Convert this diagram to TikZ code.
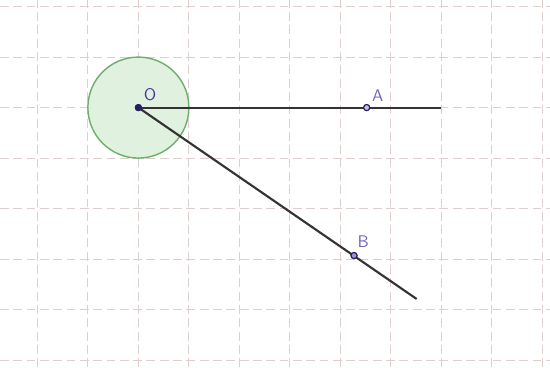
\documentclass[tikz,border=0pt]{standalone}
\usepackage{xcolor}
\usepackage{tikz}
\usetikzlibrary{positioning}
\definecolor{gridpink}{RGB}{222,206,206}
\definecolor{discgreen}{RGB}{110,175,110}
\definecolor{discfill}{RGB}{224,241,224}
\definecolor{ptnavy}{RGB}{38,30,100}
\definecolor{lblblue}{RGB}{110,100,190}
\definecolor{lbldark}{RGB}{75,55,145}

\begin{document}
\begin{tikzpicture}[
  gridline/.style={draw=gridpink,dash pattern=on 5pt off 2.5pt,line width=0.5pt},
  disc/.style={draw=discgreen,fill=discfill,line width=0.8pt},
  ray/.style={draw=black!80,line width=1.2pt},
  pt/.style={circle,inner sep=0pt,minimum size=1.2mm,draw=ptnavy,line width=0.6pt},
  lbl/.style={inner sep=0pt,font=\fontsize{9.5}{11}\sffamily,text=lblblue}
]
\useasboundingbox (-2.74,-5.14) rectangle (8.15,2.13);

% Dashed background grid.
\foreach \gx in {-2,...,8}
  \draw[gridline] (\gx,-5.14) -- (\gx,2.13);
\foreach \gy in {-5,...,2}
  \draw[gridline] (-2.74,\gy) -- (8.15,\gy);

% Disc round O and the two rays.
\fill[disc] (0,0) circle (1);
\coordinate (aend) at (6,0);
\coordinate (bend) at (5.51,-3.79);
\node[pt,fill=ptnavy] (O) at (0,0) {};
\node[pt,fill=lblblue!40] (A) at (4.52,0) {};
\node[pt,fill=lblblue!70] (B) at (4.27,-2.93) {};
\draw[ray] (O.center) -- (aend);
\draw[ray] (O.center) -- (bend);
\node[pt,fill=ptnavy] at (O) {};
\node[pt,fill=lblblue!40] at (A) {};
\node[pt,fill=lblblue!70] at (B) {};

% Point labels.
\node[lbl,text=lbldark] (labO) at (0.23,0.26) {O};
\node[lbl] (labA) at (4.74,0.24) {A};
\node[lbl] (labB) at (4.45,-2.66) {B};
\end{tikzpicture}
\end{document}
